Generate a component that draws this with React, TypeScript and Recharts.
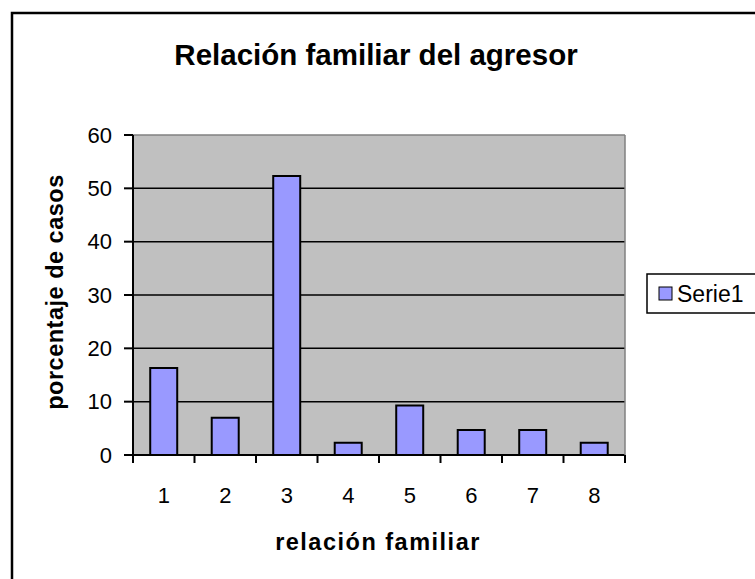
import React from 'react';
import { BarChart, Bar, XAxis, YAxis, CartesianGrid, ReferenceLine, Legend } from 'recharts';

const categories = ['1', '2', '3', '4', '5', '6', '7', '8'];
const serie1 = [16.3, 7.0, 52.3, 2.3, 9.3, 4.7, 4.7, 2.3];
const yTicks = [0, 10, 20, 30, 40, 50, 60];

const data = categories.map((name, i) => ({ name, serie1: serie1[i] }));

const FONT = '"Liberation Sans", Arial, sans-serif';

// category ticks sit on the band edges, labels in the middle (Excel style)
const XTick = (props: any) => {
  const { x, y, payload, index } = props;
  const half = payload && payload.offset ? payload.offset : 30.75;
  return (
    <g>
      <line x1={x - half} y1={y} x2={x - half} y2={y + 8} stroke="#000" strokeWidth={2} />
      {index === categories.length - 1 && (
        <line x1={x + half} y1={y} x2={x + half} y2={y + 8} stroke="#000" strokeWidth={2} />
      )}
      <text x={x} y={y + 48} textAnchor="middle" fontSize={22} fontFamily={FONT} fill="#000">
        {payload.value}
      </text>
    </g>
  );
};

const LegendBox = () => (
  <svg width={120} height={42} style={{ position: 'absolute', left: 0, top: 0, overflow: 'visible' }}>
    <rect x={1} y={1} width={130} height={39} fill="#fff" stroke="#000" strokeWidth={1.5} />
    <rect x={13} y={14} width={13} height={13} fill="#9999FF" stroke="#000" strokeWidth={1} />
    <text x={31} y={29} fontSize={23} fontFamily={FONT} fill="#000">Serie1</text>
  </svg>
);

export default function App() {
  return (
    <div style={{ position: 'absolute', left: 0, top: 0, width: 755, height: 579, background: '#fff', overflow: 'hidden' }}>
      <BarChart
        width={755}
        height={579}
        data={data}
        margin={{ top: 135, right: 130, left: 80, bottom: 94 }}
        barCategoryGap="28%"
      >
        <CartesianGrid vertical={false} horizontalValues={[10, 20, 30, 40, 50]} stroke="#000" strokeWidth={1.5} fill="#C0C0C0" fillOpacity={1} />
        <ReferenceLine y={60} stroke="#808080" strokeWidth={1.5} />
        <XAxis dataKey="name" height={30} tickLine={false} tickSize={0} tickMargin={0} tick={<XTick />} axisLine={{ stroke: '#000', strokeWidth: 2 }} interval={0} />
        <YAxis
          width={53}
          domain={[0, 60]}
          ticks={yTicks}
          tickSize={9}
          tickMargin={12}
          tickLine={{ stroke: '#000', strokeWidth: 2 }}
          axisLine={{ stroke: '#000', strokeWidth: 2 }}
          tick={{ fill: '#000', fontSize: 22, fontFamily: FONT }}
        />
        <Legend
          layout="horizontal"
          align="center"
          verticalAlign="middle"
          wrapperStyle={{ position: 'absolute', left: 646, top: 273, width: 120, height: 42 }}
          content={<LegendBox />}
        />
        <Bar dataKey="serie1" name="Serie1" fill="#9999FF" stroke="#000" strokeWidth={2} isAnimationActive={false} />
      </BarChart>
      <svg width={755} height={579} style={{ position: 'absolute', left: 0, top: 0, pointerEvents: 'none' }}>
        <rect x={12} y={13} width={800} height={700} fill="none" stroke="#000" strokeWidth={2.5} />
        <line x1={625} y1={135} x2={625} y2={455} stroke="#808080" strokeWidth={1.5} />
        <text x={376} y={65} textAnchor="middle" fontSize={29.5} fontWeight="bold" fontFamily={FONT} fill="#000">
          Relación familiar del agresor
        </text>
        <text x={378} y={550} textAnchor="middle" fontSize={23.5} fontWeight="bold" fontFamily={FONT} fill="#000" letterSpacing={1.5}>
          relación familiar
        </text>
        <text
          x={0}
          y={0}
          transform="translate(63 292) rotate(-90)"
          textAnchor="middle"
          fontSize={23.5}
          fontWeight="bold"
          fontFamily={FONT}
          fill="#000"
          letterSpacing={0.5}
        >
          porcentaje de casos
        </text>
      </svg>
    </div>
  );
}
